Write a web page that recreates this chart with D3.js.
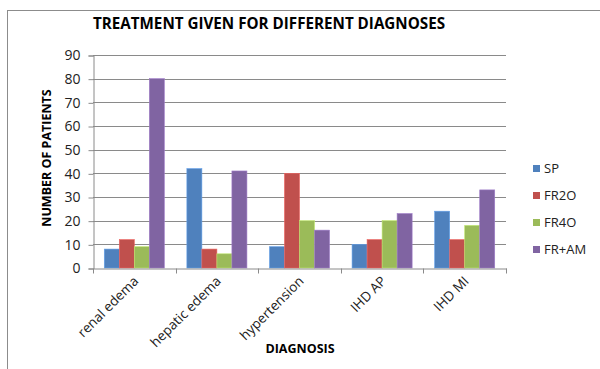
<!DOCTYPE html>
<html>
<head>
<meta charset="utf-8">
<script src="https://cdn.jsdelivr.net/npm/d3@7"></script>
<style>
  body { margin: 0; background: #fff; }
  text { font-family: "Open Sans", "Liberation Sans", sans-serif; }
</style>
</head>
<body>
<div id="chart"></div>
<script>
// data
const diagnoses = ["renal edema", "hepatic edema", "hypertension", "IHD  AP", "IHD MI"];
const seriesNames = ["SP", "FR2O", "FR4O", "FR+AM"];
const sp = [8, 42, 9, 10, 24];
const fr20 = [12, 8, 40, 12, 12];
const fr40 = [9, 6, 20, 20, 18];
const frAm = [80, 41, 16, 23, 33];
const yTicks = [0, 10, 20, 30, 40, 50, 60, 70, 80, 90];
const colors = ["#4F81BD", "#C0504D", "#9BBB59", "#8064A2"];

const seriesValues = [sp, fr20, fr40, frAm];

const width = 600, height = 369;
const plot = {left: 93, right: 506, top: 55, bottom: 268};

const svg = d3.select("#chart")
  .append("svg")
    .attr("width", width)
    .attr("height", height);

// outer chart frame (runs off the right and bottom)
svg.append("rect")
  .attr("x", 7.5).attr("y", 10.5)
  .attr("width", 620).attr("height", 400)
  .attr("fill", "#fff")
  .attr("stroke", "#8c8c8c");

const x = d3.scaleBand()
  .domain(diagnoses)
  .range([plot.left, plot.right]);

const groupW = x.bandwidth() * 0.727;
const x1 = d3.scaleBand()
  .domain(seriesNames)
  .range([0, groupW]);

const y = d3.scaleLinear()
  .domain([0, 90])
  .range([plot.bottom, plot.top]);

// gridlines
svg.append("g")
  .selectAll("line")
  .data(yTicks.filter(d => d > 0))
  .join("line")
    .attr("x1", plot.left).attr("x2", plot.right)
    .attr("y1", d => Math.round(y(d)) + 0.5)
    .attr("y2", d => Math.round(y(d)) + 0.5)
    .attr("stroke", "#8a8a8a");

// bars
const groups = svg.append("g")
  .selectAll("g")
  .data(diagnoses)
  .join("g")
    .attr("transform", d => `translate(${x(d) + (x.bandwidth() - groupW) / 2},0)`);

groups.selectAll("rect")
  .data((d, i) => seriesNames.map((s, j) => ({s: s, v: seriesValues[j][i], c: colors[j]})))
  .join("rect")
    .attr("x", d => x1(d.s))
    .attr("width", x1.bandwidth())
    .attr("y", d => y(d.v))
    .attr("height", d => plot.bottom - y(d.v))
    .attr("fill", d => d.c)
    .attr("stroke", d => d3.color(d.c).brighter(0.6))
    .attr("stroke-width", 0.6);

// y axis
const yAxis = svg.append("g")
  .attr("transform", `translate(${plot.left + 0.5},0.5)`)
  .call(d3.axisLeft(y).tickValues(yTicks).tickSize(5).tickPadding(8));
yAxis.selectAll("path, line").attr("stroke", "#8a8a8a");
yAxis.selectAll("text")
  .attr("fill", "#222")
  .style("font-size", "14px");

// x axis
const xAxis = svg.append("g")
  .attr("transform", `translate(0.5,${plot.bottom + 0.5})`)
  .call(d3.axisBottom(x).tickSize(0).tickFormat(""));
xAxis.select("path").attr("stroke", "#8a8a8a");
xAxis.selectAll(".bound")
  .data(d3.range(diagnoses.length + 1))
  .join("line")
    .attr("class", "bound")
    .attr("x1", i => Math.round(plot.left + i * x.step()))
    .attr("x2", i => Math.round(plot.left + i * x.step()))
    .attr("y1", 0).attr("y2", 5)
    .attr("stroke", "#8a8a8a");

svg.append("g")
  .selectAll("text")
  .data(diagnoses)
  .join("text")
    .attr("transform", d => `translate(${x(d) + x.bandwidth() / 2 + 5},${plot.bottom + 14}) rotate(-45)`)
    .attr("text-anchor", "end")
    .attr("fill", "#222")
    .style("font-size", "13.5px")
    .text(d => d);

// titles
svg.append("text")
  .attr("x", 269).attr("y", 29)
  .attr("text-anchor", "middle")
  .style("font-size", "15.2px")
  .style("font-weight", "bold")
  .text("TREATMENT GIVEN FOR DIFFERENT DIAGNOSES");

svg.append("text")
  .attr("transform", "translate(51,158) rotate(-90)")
  .attr("text-anchor", "middle")
  .style("font-size", "12.5px")
  .style("font-weight", "bold")
  .text("NUMBER  OF PATIENTS");

svg.append("text")
  .attr("x", 300).attr("y", 353)
  .attr("text-anchor", "middle")
  .style("font-size", "12.5px")
  .style("font-weight", "bold")
  .text("DIAGNOSIS");

// legend
const legend = svg.append("g")
  .selectAll("g")
  .data(seriesNames)
  .join("g")
    .attr("transform", (d, i) => `translate(533,${165 + i * 27})`);

legend.append("rect")
  .attr("width", 7).attr("height", 7)
  .attr("fill", (d, i) => colors[i]);

legend.append("text")
  .attr("x", 11).attr("y", 8)
  .attr("fill", "#222")
  .style("font-size", "13px")
  .text(d => d);
</script>
</body>
</html>
